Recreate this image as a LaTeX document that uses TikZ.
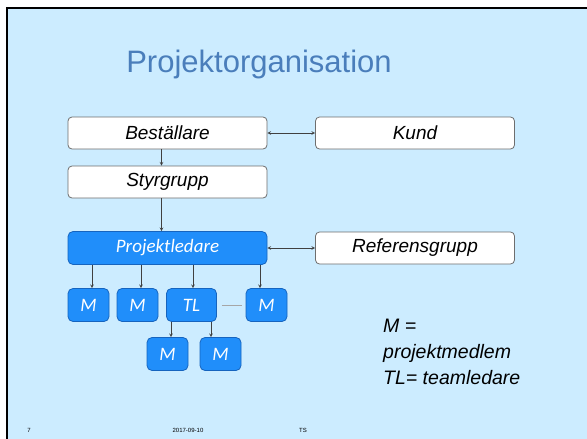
\documentclass[tikz,border=0pt]{standalone}
\usepackage{fontspec}
\setmainfont{Liberation Sans}
\newfontfamily\carlito{Carlito}
\usetikzlibrary{arrows}
\definecolor{slidebg}{RGB}{204,236,255}
\definecolor{titleblue}{RGB}{74,126,187}
\definecolor{boxblue}{RGB}{32,142,250}
\definecolor{boxedge}{RGB}{22,100,190}
\definecolor{edgegray}{RGB}{110,110,110}
\definecolor{arrowgray}{RGB}{64,64,64}
\tikzstyle{whitebox} = [rectangle, rounded corners=4pt, minimum width=199pt, minimum height=32pt, text centered, draw=edgegray, line width=0.8pt, fill=white, font=\itshape\fontsize{19}{22}\selectfont]
\tikzstyle{bluebox} = [rectangle, rounded corners=5pt, minimum height=33pt, text centered, draw=boxedge, line width=0.8pt, fill=boxblue, text=white, font=\carlito\itshape\fontsize{19}{22}\selectfont]
\tikzstyle{member} = [bluebox, minimum width=41pt]
\tikzstyle{arrow} = [->,>=stealth, draw=arrowgray, line width=0.6pt]
\tikzstyle{twoway} = [<->,>=stealth, draw=arrowgray, line width=0.6pt]
\begin{document}
\begin{tikzpicture}[x=1pt, y=1pt, node distance=49pt]
\useasboundingbox (0,0) rectangle (587,-439);
\fill[white] (0,0) rectangle (587,-439);
\fill[slidebg] (7,-8) rectangle (587,-439);
\draw[line width=2pt] (7,-439) -- (7,-8) -- (587,-8);

\node (title) [anchor=base, text=titleblue, font=\fontsize{31}{36}\selectfont] at (259,-72.5) {Projektorganisation};

\node (bestallare) [whitebox] at (167.5,-133) {Beställare};
\node (kund) [whitebox, right of=bestallare, xshift=198.5pt] {Kund};
\draw [twoway] (bestallare)--(kund);

\node (styrgrupp) [whitebox, below of=bestallare] {Styrgrupp};
\draw [arrow] ([xshift=-6pt]bestallare.south)--([xshift=-6pt]styrgrupp.north);

\node (projektledare) [bluebox, minimum width=199pt, below of=styrgrupp, yshift=-17pt] {Projektledare};
\draw [arrow] ([xshift=-6pt]styrgrupp.south)--([xshift=-6pt]projektledare.north);

\node (referensgrupp) [whitebox, right of=projektledare, xshift=198.5pt] {Referensgrupp};
\draw [twoway] (projektledare)--(referensgrupp);

% team
\node (m1) [member, below of=projektledare, xshift=-79pt, yshift=-8pt] {M};
\node (m2) [member, right of=m1] {M};
\node (tl) [member, minimum width=50pt, right of=m2, xshift=5pt] {TL};
\node (m4) [member, right of=tl, xshift=26pt] {M};
\draw [arrow] ([xshift=3.5pt]m1.north |- projektledare.south)--([xshift=3.5pt]m1.north);
\draw [arrow] ([xshift=3.5pt]m2.north |- projektledare.south)--([xshift=3.5pt]m2.north);
\draw [arrow] ([xshift=1.5pt]tl.north |- projektledare.south)--([xshift=1.5pt]tl.north);
\draw [arrow] ([xshift=-6.5pt]m4.north |- projektledare.south)--([xshift=-6.5pt]m4.north);
\draw [draw=gray!70, line width=0.4pt] ([xshift=5pt]tl.east)--([xshift=-4pt]m4.west);

\node (m5) [member, below of=tl, xshift=-24pt] {M};
\node (m6) [member, right of=m5, xshift=4pt] {M};
\draw [arrow] ([xshift=3.5pt]m5.north |- tl.south)--([xshift=3.5pt]m5.north);
\draw [arrow] ([xshift=-9.5pt]m6.north |- tl.south)--([xshift=-9.5pt]m6.north);

\node (legend) [anchor=north west, align=left, inner sep=0pt, font=\itshape\fontsize{19.5}{26}\selectfont] at (383,-319) {M =\\projektmedlem\\TL= teamledare};

% footer
\node (slidenr) [anchor=base, font=\fontsize{6}{7}\selectfont] at (29,-432) {7};
\node (datum) [anchor=base, font=\fontsize{6}{7}\selectfont] at (188,-432) {2017-09-10};
\node (sign) [anchor=base, font=\fontsize{6}{7}\selectfont] at (303,-432) {TS};
\end{tikzpicture}
\end{document}
